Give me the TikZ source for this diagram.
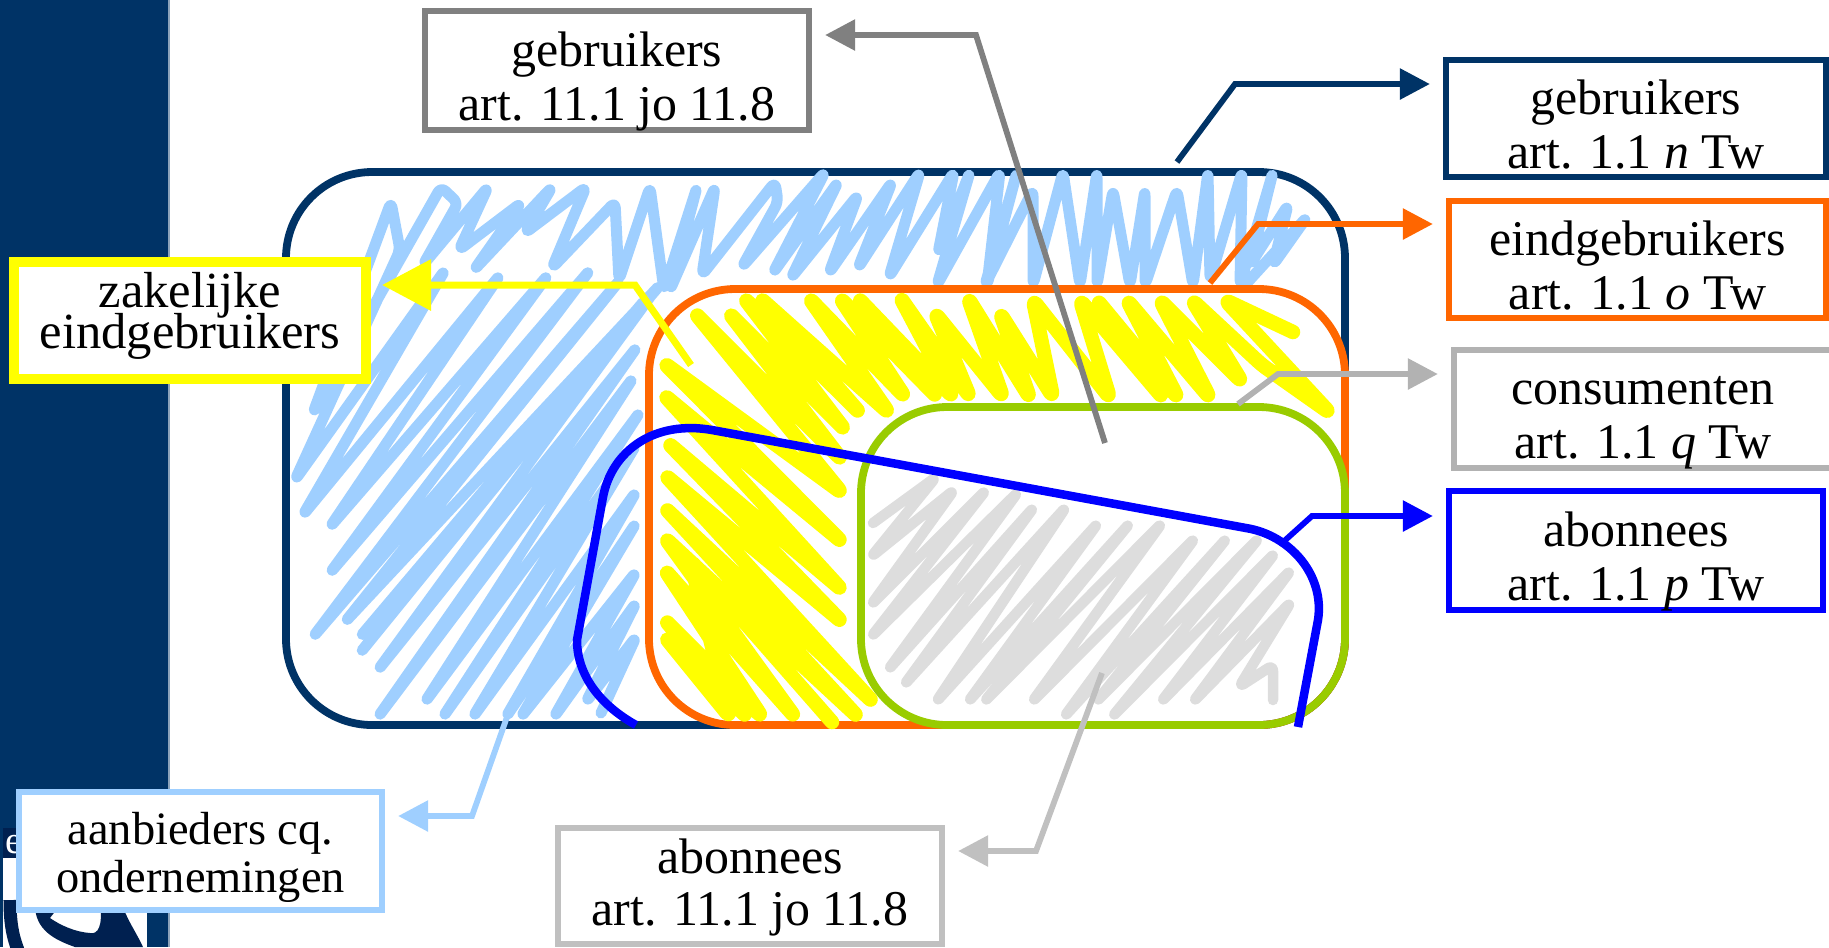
\documentclass[tikz,border=0pt]{standalone}
\usepackage{fontspec}
\setmainfont{Liberation Serif}
\usepackage{xcolor}
\usetikzlibrary{arrows.meta}

\definecolor{navyblue}{HTML}{003366}
\definecolor{logoblue}{HTML}{002050}
\definecolor{skyblue}{HTML}{9FCFFF}
\definecolor{hotorange}{HTML}{FF6600}
\definecolor{limegreen}{HTML}{99CC00}
\definecolor{pureblue}{HTML}{0000FF}
\definecolor{pureyellow}{HTML}{FFFF00}
\definecolor{midgray}{HTML}{808080}
\definecolor{softgray}{HTML}{B2B2B2}
\definecolor{lightergray}{HTML}{C0C0C0}
\definecolor{palegray}{HTML}{DDDDDD}

\newcommand{\boxfont}[2]{\fontsize{#1}{#2}\selectfont\lineskiplimit=-1cm}

\tikzset{
    labelbox/.style={draw, fill=white, line width=0.62mm, inner sep=0pt, outer sep=0pt, align=center,
        text height=0.99cm, text depth=0pt, font=\boxfont{14.2}{15.3}},
    conn/.style={line width=0.58mm, line join=miter, -{Triangle[length=3mm,width=3mm]}, shorten >=1.6mm},
    arealine/.style={line width=0.78mm, rounded corners=8.6mm},
    scribble/.style={line join=round, line cap=round, rounded corners=0.6mm}
}

\begin{document}
\begin{tikzpicture}[x=0.01cm,y=-0.01cm]
    \useasboundingbox (0,0) rectangle (1829,947);

    % Side bar and logo
    \fill [navyblue] (0,0) rectangle (168,947);
    \fill [navyblue!45] (168,0) rectangle (170,947);
    \fill [logoblue] (3,828) rectangle (147,858);
    \node [text=white, font=\fontsize{11}{11}\selectfont, inner sep=0pt] (logoletter) at (14,845) {e};
    \fill [white] (3,858) rectangle (147,947);
    \draw [logoblue, line width=1.3mm] (10,900) .. controls (10,920) and (12,935) .. (18,950);
    \fill [logoblue] (35,905) .. controls (35,930) and (55,940) .. (75,947) -- (143,947)
        .. controls (135,930) and (130,925) .. (122,905) -- (100,905)
        .. controls (103,925) and (98,935) .. (90,933) .. controls (75,932) and (60,925) .. (50,918)
        -- (60,905) -- cycle;

    % Gebruikers
    \draw [arealine, navyblue] (286,172) rectangle (1345,725);
    \draw [scribble, skyblue, line width=1.1mm]
        (601,713) -- (636,637) -- (586,702) -- (636,603) -- (554,717) -- (636,572) -- (521,717)
        -- (636,523) -- (506,717) -- (636,492) -- (473,717) -- (636,445) -- (443,717) -- (640,412)
        -- (425,702) -- (633,378) -- (378,717) -- (637,347) -- (378,670) -- (655,290) -- (360,653)
        -- (645,300) -- (360,637) -- (660,285) -- (345,622) -- (620,280) -- (313,637) -- (590,270)
        -- (330,573) -- (548,275) -- (330,527) -- (500,275) -- (303,515) -- (445,270) -- (295,480)
        -- (400,250) -- (391,202) -- (313,413) -- (441,187) -- (458,203) -- (423,265) -- (488,187)
        -- (459,250) -- (521,203) -- (474,270) -- (552,187) -- (525,233) -- (586,187) -- (552,268)
        -- (615,202) -- (619,280) -- (650,187) -- (664,290) -- (697,187) -- (670,290) -- (715,187)
        -- (702,275) -- (775,182) -- (778,202) -- (742,267) -- (825,172) -- (773,273) -- (838,182)
        -- (791,278) -- (858,195) -- (829,273) -- (892,182) -- (858,268) -- (920,172) -- (889,277)
        -- (954,172) -- (938,253) -- (970,172) -- (937,285) -- (1000,172) -- (987,285) -- (1017,172)
        -- (985,285) -- (1033,190) -- (1033,285) -- (1063,172) -- (1080,285) -- (1097,172)
        -- (1097,285) -- (1113,190) -- (1130,285) -- (1145,190) -- (1145,285) -- (1177,190)
        -- (1193,285) -- (1208,172) -- (1210,280) -- (1242,172) -- (1240,285) -- (1273,172)
        -- (1250,265) -- (1288,205) -- (1273,265) -- (1307,217) -- (1245,285);

    % Eindgebruikers
    \draw [arealine, hotorange] (649,289) rectangle (1345,725);
    \draw [scribble, pureyellow, line width=1.45mm]
        (1293,332) -- (1225,300) -- (1330,413) -- (1262,365) -- (1192,300) -- (1242,382) -- (1160,300)
        -- (1210,398) -- (1127,300) -- (1178,398) -- (1097,300) -- (1163,398) -- (1080,300)
        -- (1110,398) -- (1033,300) -- (1053,397) -- (1000,313) -- (1030,398) -- (968,298)
        -- (1003,397) -- (935,313) -- (970,397) -- (900,297) -- (953,397) -- (858,298) -- (937,397)
        -- (840,298) -- (905,397) -- (809,298) -- (889,413) -- (760,298) -- (860,413) -- (744,298)
        -- (845,430) -- (729,313) -- (842,460) -- (695,313) -- (842,493) -- (664,363) -- (842,542)
        -- (664,395) -- (842,590) -- (668,443) -- (842,622) -- (665,475) -- (873,702) -- (665,508)
        -- (858,717) -- (665,538) -- (795,717) -- (665,570) -- (762,717) -- (665,620) -- (747,717)
        -- (665,637) -- (730,717) -- (690,560) -- (832,722);

    % Consumenten
    \draw [arealine, limegreen] (861,407) rectangle (1345,725);
    \draw [scribble, palegray, line width=1.05mm]
        (873,523) -- (921,488) -- (936,477) -- (871,557) -- (954,490) -- (871,605) -- (986,490)
        -- (871,637) -- (1018,492) -- (888,670) -- (1034,507) -- (904,685) -- (1066,507) -- (936,702)
        -- (1098,523) -- (968,702) -- (1130,523) -- (984,702) -- (1162,523) -- (1032,702) -- (1195,538)
        -- (1064,717) -- (1227,538) -- (1096,702) -- (1259,538) -- (1112,717) -- (1275,553)
        -- (1161,702) -- (1291,570) -- (1193,702) -- (1291,602) -- (1239,687) -- (1273,665) -- (1273,700);

    % Abonnees
    \draw [pureblue, line width=0.85mm] (636,725) .. controls (600,705) and (577,675) .. (577,640)
        -- (603,497) .. controls (612,450) and (655,420) .. (712,430)
        -- (1246,528) .. controls (1290,535) and (1325,575) .. (1318,620) -- (1298,727);

    % Label boxes
    \node [labelbox, draw=midgray, minimum width=3.84cm, minimum height=1.19cm] (usersforty) at (617,70.5)
        {gebruikers\\art. 11.1 jo 11.8};
    \node [labelbox, draw=navyblue, minimum width=3.80cm, minimum height=1.17cm] (usersbox) at (1636,118.5)
        {gebruikers\\art. 1.1 \textit{n} Tw};
    \node [labelbox, draw=hotorange, minimum width=3.77cm, minimum height=1.17cm] (endusersbox) at (1637.5,259.5)
        {eindgebruikers\\art. 1.1 \textit{o} Tw};
    \node [labelbox, draw=softgray, minimum width=3.78cm, minimum height=1.18cm] (consumersbox) at (1643,409)
        {consumenten\\art. 1.1 \textit{q} Tw};
    \node [labelbox, draw=pureblue, minimum width=3.74cm, minimum height=1.19cm] (subscribersbox) at (1636,550.5)
        {abonnees\\art. 1.1 \textit{p} Tw};
    \node [labelbox, draw=pureyellow, line width=1mm, minimum width=3.52cm, minimum height=1.17cm, text height=0.55cm,
        font=\boxfont{14.4}{11.4}] (businessbox) at (190,320.5)
        {zakelijke\\eindgebruikers};
    \node [labelbox, draw=skyblue, minimum width=3.63cm, minimum height=1.18cm, text height=0.82cm,
        font=\boxfont{13.2}{13.6}] (providersbox) at (200.5,851)
        {aanbieders cq.\\ondernemingen};
    \node [labelbox, draw=lightergray, minimum width=3.84cm, minimum height=1.16cm, text height=0.78cm,
        font=\boxfont{14.2}{14.8}] (subscribersforty) at (750,886)
        {abonnees\\art. 11.1 jo 11.8};

    % Connectors
    \coordinate (usersstart) at (1177,162);
    \coordinate (usersbend) at (1235,84);
    \draw [conn, navyblue] (usersstart) -- (usersbend) -- (usersbend -| usersbox.west);
    \coordinate (endusersstart) at (1210,283);
    \coordinate (endusersbend) at (1258,224);
    \draw [conn, hotorange] (endusersstart) -- (endusersbend) -- (endusersbend -| endusersbox.west);
    \coordinate (consumersstart) at (1238,404);
    \coordinate (consumersbend) at (1278,374);
    \draw [conn, softgray] (consumersstart) -- (consumersbend) -- (consumersbend -| consumersbox.west);
    \coordinate (subscribersstart) at (1282,543);
    \coordinate (subscribersbend) at (1312,516);
    \draw [conn, pureblue] (subscribersstart) -- (subscribersbend) -- (subscribersbend -| subscribersbox.west);
    \coordinate (fortystart) at (1105,443);
    \coordinate (fortybend) at (976,35);
    \draw [conn, midgray] (fortystart) -- (fortybend) -- (fortybend -| usersforty.east);
    \coordinate (businessstart) at (691,365);
    \coordinate (businessbend) at (635,285);
    \draw [conn, pureyellow, line width=0.7mm, -{Triangle[length=4.9mm,width=5mm]}] (businessstart) -- (businessbend) -- (businessbend -| businessbox.east);
    \coordinate (providersstart) at (513,700);
    \coordinate (providersbend) at (472,816);
    \draw [conn, skyblue] (providersstart) -- (providersbend) -- (providersbend -| providersbox.east);
    \coordinate (lowerstart) at (1102,673);
    \coordinate (lowerbend) at (1036,851);
    \draw [conn, lightergray] (lowerstart) -- (lowerbend) -- (lowerbend -| subscribersforty.east);
\end{tikzpicture}
\end{document}
